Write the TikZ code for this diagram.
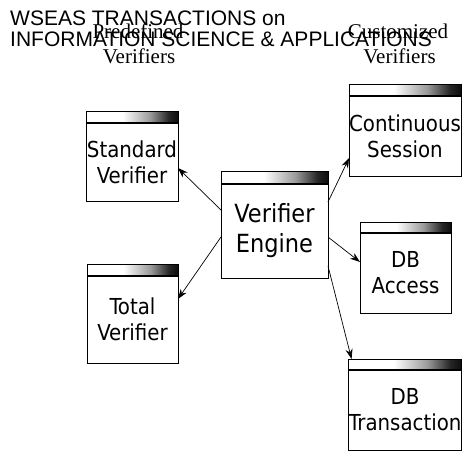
\documentclass[tikz,border=0pt]{standalone}
\usepackage{fontspec}
\setmainfont{Liberation Serif}
\newfontfamily\boxfont{DejaVu Sans Condensed}
\newfontfamily\headfont{Liberation Sans}
\usetikzlibrary{arrows.meta,calc}
% title bar of each component: white on the left, darkening to black on the right
\pgfdeclarehorizontalshading{hdrshade}{100bp}{color(0bp)=(white); color(45bp)=(white); color(60bp)=(black!40); color(70bp)=(black!85); color(75bp)=(black!95); color(100bp)=(black!95)}
\begin{document}
\begin{tikzpicture}[x=1pt,y=-1pt,
  vbox/.style={draw, line width=0.7pt, inner sep=0pt, outer sep=0pt, align=center,
    font=\boxfont\fontsize{22}{26}\selectfont},
  hdr/.style={shading=hdrshade, draw, line width=0.7pt},
  sep/.style={line width=1.4pt},
  conn/.style={-{Stealth[length=10pt,width=7pt]}, line width=0.7pt},
  serifhead/.style={font=\fontsize{21}{25}\selectfont, anchor=base, inner sep=0pt},
  journal/.style={font=\headfont\fontsize{21}{22}\selectfont, anchor=base west, inner sep=0pt}]
\useasboundingbox (0,0) rectangle (464,451);

% journal header
\node[journal] (j1) at (10,25) {WSEAS TRANSACTIONS on};
\node[journal] (j2) at (10,46.5) {INFORMATION SCIENCE \& APPLICATIONS};

% column headings
\node[serifhead] (pre1) at (138,38) {Predefined};
\node[serifhead] (pre2) at (139,63) {Verifiers};
\node[serifhead] (cus1) at (398,38) {Customized};
\node[serifhead] (cus2) at (399.5,63) {Verifiers};

% component bodies (below their title bars)
\node[vbox, minimum width=92pt, minimum height=78pt] (std) at (132,162) {Standard\\Verifier};
\node[vbox, minimum width=91pt, minimum height=87pt] (tot) at (132.5,319.5) {Total\\Verifier};
\node[vbox, minimum width=107pt, minimum height=94pt,
      font=\boxfont\fontsize{25}{30}\selectfont] (eng) at (274.5,231) {Verifier\\Engine};
\node[vbox, minimum width=92pt, minimum height=80pt] (cs) at (405,136) {Continuous\\Session};
\node[vbox, minimum width=91pt, minimum height=80pt] (dba) at (405.5,273) {DB\\Access};
\node[vbox, minimum width=92pt, minimum height=80pt] (dbt) at (405,410) {DB\\Transaction};

% title bars
\foreach \n/\h in {std/12, tot/12, eng/13, cs/12, dba/11, dbt/11} {
  \shade[hdr] ($(\n.north west)+(0,-\h)$) rectangle (\n.north east);
  \draw[sep] (\n.north west) -- (\n.north east);
}

% connectors from the engine
\draw[conn] ($(eng.west)+(0,-21)$) -- ($(std.east)+(0,6)$);
\draw[conn] ($(eng.west)+(0,6)$) -- ($(tot.east)+(0,-20.5)$);
\draw[conn] ($(eng.east)+(0,-29)$) -- ($(cs.west)+(0,22)$);
\draw[conn] ($(eng.east)+(0,6)$) -- ($(dba.west)+(0,-11)$);
\draw[conn] ($(eng.east)+(0,35)$) -- ($(dbt.north west)+(3,-11)$);
\end{tikzpicture}
\end{document}
